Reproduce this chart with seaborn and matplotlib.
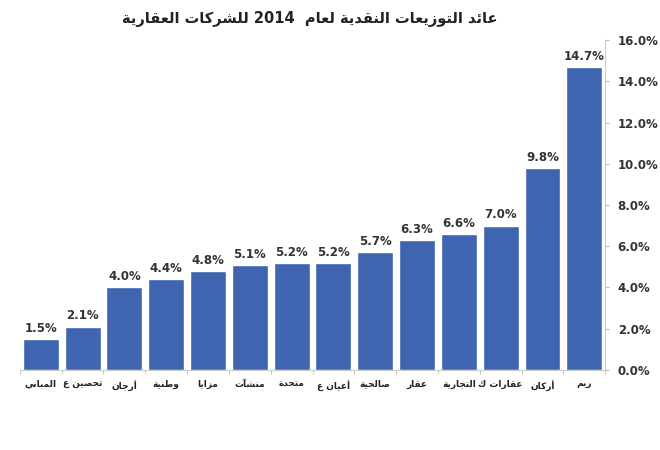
import matplotlib
matplotlib.use('Agg')
import matplotlib.pyplot as plt
import seaborn as sns
from matplotlib.ticker import PercentFormatter, FixedLocator

companies = ['المباني', 'تحصين ع', 'أرجان', 'وطنية', 'مزايا', 'منشآت', 'متحدة',
             'أعيان ع', 'صالحية', 'عقار', 'التجارية', 'عقارات ك', 'أركان', 'ريم']
yields = [1.5, 2.1, 4.0, 4.4, 4.8, 5.1, 5.2, 5.2, 5.7, 6.3, 6.6, 7.0, 9.8, 14.7]
title = 'عائد التوزيعات النقدية لعام  2014 للشركات العقارية'

# presentation forms: letter -> (first form code, number of forms)
FORMS = {
    'ء': (0xFE80, 1), 'آ': (0xFE81, 2), 'أ': (0xFE83, 2), 'ؤ': (0xFE85, 2),
    'إ': (0xFE87, 2), 'ئ': (0xFE89, 4), 'ا': (0xFE8D, 2), 'ب': (0xFE8F, 4),
    'ة': (0xFE93, 2), 'ت': (0xFE95, 4), 'ث': (0xFE99, 4), 'ج': (0xFE9D, 4),
    'ح': (0xFEA1, 4), 'خ': (0xFEA5, 4), 'د': (0xFEA9, 2), 'ذ': (0xFEAB, 2),
    'ر': (0xFEAD, 2), 'ز': (0xFEAF, 2), 'س': (0xFEB1, 4), 'ش': (0xFEB5, 4),
    'ص': (0xFEB9, 4), 'ض': (0xFEBD, 4), 'ط': (0xFEC1, 4), 'ظ': (0xFEC5, 4),
    'ع': (0xFEC9, 4), 'غ': (0xFECD, 4), 'ف': (0xFED1, 4), 'ق': (0xFED5, 4),
    'ك': (0xFED9, 4), 'ل': (0xFEDD, 4), 'م': (0xFEE1, 4), 'ن': (0xFEE5, 4),
    'ه': (0xFEE9, 4), 'و': (0xFEED, 2), 'ى': (0xFEEF, 2), 'ي': (0xFEF1, 4),
}
LAM_ALEF = {'ا': 0xFEFB, 'أ': 0xFEF7, 'آ': 0xFEF5, 'إ': 0xFEF9}


def shape_word(word):
    # merge lam + alef into ligature placeholders
    chars = []
    i = 0
    while i < len(word):
        if word[i] == 'ل' and i + 1 < len(word) and word[i + 1] in LAM_ALEF:
            chars.append(('LA', word[i + 1]))
            i += 2
        else:
            chars.append((word[i], None))
            i += 1

    def dual(c):
        return c[0] in FORMS and FORMS[c[0]][1] == 4

    def arabic(c):
        return c[0] == 'LA' or c[0] in FORMS

    out = []
    for k, c in enumerate(chars):
        prev_joins = k > 0 and dual(chars[k - 1])
        if c[0] == 'LA':
            out.append(chr(LAM_ALEF[c[1]] + (1 if prev_joins else 0)))
            continue
        if c[0] not in FORMS:
            out.append(c[0])
            continue
        base, n = FORMS[c[0]]
        next_joins = n == 4 and k + 1 < len(chars) and arabic(chars[k + 1])
        prev_joins = prev_joins and n > 1
        if prev_joins and next_joins:
            form = 3
        elif next_joins:
            form = 2
        elif prev_joins:
            form = 1
        else:
            form = 0
        out.append(chr(base + form))
    return ''.join(out)


def rtl(text):
    words = text.split(' ')
    shown = []
    for w in reversed(words):
        if any(ch in FORMS for ch in w):
            shown.append(shape_word(w)[::-1])
        else:
            shown.append(w)
    return ' '.join(shown)


sns.set_style('white')
plt.rcParams['font.family'] = ['DejaVu Sans']

fig = plt.figure(figsize=(6.6, 4.5), dpi=100)
ax = fig.add_axes([0.03, 0.178, 0.887, 0.733])

shown_names = [rtl(c) for c in companies]
sns.barplot(x=shown_names, y=yields, color='#3F64B0', width=0.86,
            saturation=1, ax=ax)

for cont in ax.containers:
    ax.bar_label(cont, labels=[f'{v:.1f}%' for v in yields], padding=3,
                 fontsize=8.5, fontweight='bold', color='#333333')

ax.set_ylim(0, 16)
ax.set_xlim(-0.5, len(yields) - 0.5)
ax.yaxis.tick_right()
ax.yaxis.set_major_formatter(PercentFormatter(decimals=1))
ax.set_yticks(range(0, 17, 2))
ax.tick_params(axis='y', length=3, color='#bbbbbb', labelsize=8.5,
               labelcolor='#333333', pad=6)
for lbl in ax.get_yticklabels():
    lbl.set_fontweight('bold')

ax.tick_params(axis='x', length=0, labelsize=6.5, labelcolor='#222222', pad=7)
for lbl in ax.get_xticklabels():
    lbl.set_fontweight('bold')
ax.xaxis.set_minor_locator(FixedLocator([i + 0.5 for i in range(-1, len(yields))]))
ax.tick_params(axis='x', which='minor', length=3, color='#bbbbbb', bottom=True)

for side in ['top', 'left']:
    ax.spines[side].set_visible(False)
ax.spines['right'].set_color('#cccccc')
ax.spines['bottom'].set_color('#cccccc')

fig.text(0.47, 0.957, rtl(title), ha='center', va='center', fontsize=10.5,
         fontweight='bold', color='#222222')

fig.savefig('out.png', dpi=100, facecolor='white')
